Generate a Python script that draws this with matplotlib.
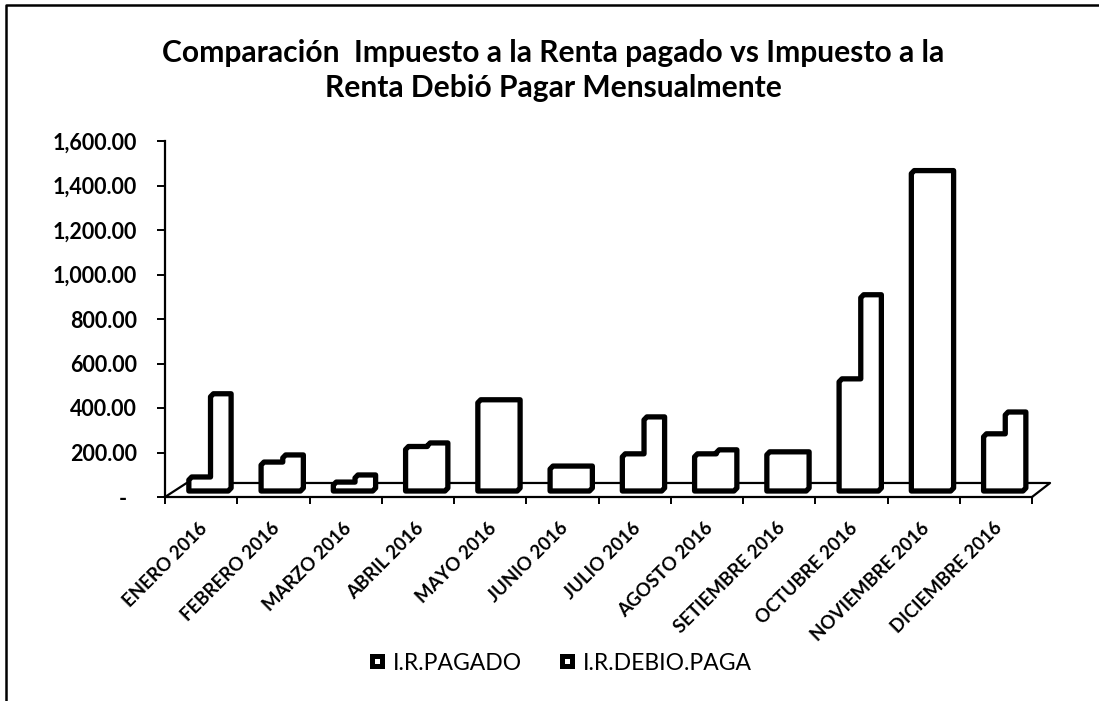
import matplotlib
matplotlib.use("Agg")
import matplotlib.pyplot as plt
from matplotlib.lines import Line2D

plt.rcParams['font.family'] = ['Lato', 'DejaVu Sans']

months = ["ENERO 2016", "FEBRERO 2016", "MARZO 2016", "ABRIL 2016", "MAYO 2016", "JUNIO 2016",
          "JULIO 2016", "AGOSTO 2016", "SETIEMBRE 2016", "OCTUBRE 2016", "NOVIEMBRE 2016", "DICIEMBRE 2016"]
ir_pagado = [63, 130, 40, 200, 410, 112, 167, 167, 176, 504, 1440, 257]
ir_debio = [437, 162, 72, 216, 410, 112, 333, 185, 176, 882, 1440, 355]
y_ticks = [0, 200, 400, 600, 800, 1000, 1200, 1400, 1600]
y_labels = ["-  ", "200.00", "400.00", "600.00", "800.00", "1,000.00", "1,200.00", "1,400.00", "1,600.00"]
title = "Comparación  Impuesto a la Renta pagado vs Impuesto a la\nRenta Debió Pagar Mensualmente"
series_names = ["I.R.PAGADO", "I.R.DEBIO.PAGA"]

W, H = 1099, 701
fig = plt.figure(figsize=(W / 100, H / 100), dpi=100, facecolor="white")
ax = fig.add_axes([165 / W, 1 - 497 / H, (1032 - 165) / W, 356 / H])
ax.set_xlim(0, 12)
ax.set_ylim(0, 1600)

# depth of the pseudo-3D floor, in axis units
BASE = 27
BACK = 63
XL, XM, XR = 0.33, 0.63, 0.915
CX, CY = 0.04, 13.5

# floor
ax.plot([0, 0.30, 12.25, 12], [0, BACK, BACK, 0], color="black", lw=1.6, clip_on=False, zorder=2)

for i, (p, d) in enumerate(zip(ir_pagado, ir_debio)):
    tp, td = p + BASE, d + BASE
    x0, xm, x1 = i + XL, i + XM, i + XR
    xs = [x0, x0, x0 + CX]
    ys = [BASE, tp - CY, tp]
    if d - p > CY:
        xs += [xm, xm, xm + CX]
        ys += [tp, td - CY, td]
    elif d > p:
        xs += [xm, xm + CX]
        ys += [tp, td]
    xs += [x1, x1, x1 - CX, x0]
    ys += [td, BASE + CY, BASE, BASE]
    ax.fill(xs, ys, facecolor="white", edgecolor="black", lw=3.8, joinstyle="round",
            clip_on=False, zorder=3)

for s in ("top", "right"):
    ax.spines[s].set_visible(False)
for s in ("left", "bottom"):
    ax.spines[s].set_linewidth(1.6)

ax.set_yticks(y_ticks)
ax.set_yticklabels(y_labels, fontsize=15.5, fontweight="bold")
ax.tick_params(axis="y", length=6, width=1.4, pad=14)
ax.set_xticks(range(13))
ax.set_xticklabels([])
ax.tick_params(axis="x", which="major", length=5, width=1.4)
ax.set_xticks([i + 0.46 for i in range(12)], minor=True)
ax.set_xticklabels(months, minor=True, rotation=45, ha="right", va="top",
                   rotation_mode="anchor", fontsize=13.4, fontweight="bold")
ax.tick_params(axis="x", which="minor", length=0, pad=16)

fig.text(553 / W, 1 - 53 / H, title.split("\n")[0], ha="center", va="center", fontsize=21.6, fontweight="bold")
fig.text(553 / W, 1 - 88 / H, title.split("\n")[1], ha="center", va="center", fontsize=21.6, fontweight="bold")

handles = [Line2D([], [], ls="none", marker="s", ms=7.5, mfc="white", mec="black", mew=3.6) for _ in series_names]
fig.legend(handles, series_names, loc="center", bbox_to_anchor=(559 / W, 1 - 663 / H), ncol=2, frameon=False,
           fontsize=16.5, handletextpad=0.2, columnspacing=1.45, handlelength=1.0)

# scanned page frame
fig.add_artist(Line2D([6 / W, 6 / W, 1], [0, 1 - 5 / H, 1 - 5 / H], color="black", lw=1.8,
                      transform=fig.transFigure))

fig.savefig("out.png", dpi=100)
